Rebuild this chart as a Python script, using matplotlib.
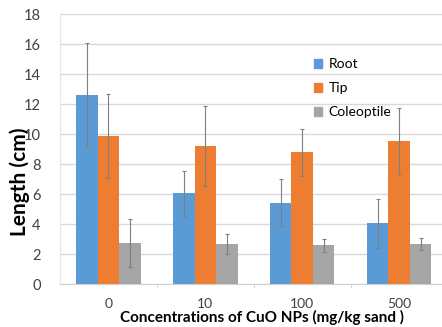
import numpy as np
import matplotlib.pyplot as plt
from matplotlib.patches import Patch

plt.rcParams['font.family'] = ['Lato', 'DejaVu Sans']

# data
concentrations = ['0', '10', '100', '500']
root = [12.6, 6.05, 5.42, 4.05]
root_err = [3.45, 1.5, 1.55, 1.65]
tip = [9.9, 9.2, 8.78, 9.56]
tip_err = [2.8, 2.67, 1.55, 2.2]
coleoptile = [2.75, 2.65, 2.58, 2.7]
coleoptile_err = [1.6, 0.68, 0.44, 0.4]

series = [('Root', root, root_err, '#5B9BD5'),
          ('Tip', tip, tip_err, '#ED7D31'),
          ('Coleoptile', coleoptile, coleoptile_err, '#A5A5A5')]

W, H = 442, 327
fig = plt.figure(figsize=(W / 100, H / 100), dpi=100)
ax = fig.add_axes([60 / W, 43 / H, 387.5 / W, 270 / H])

x = np.arange(len(concentrations))
bw = 0.222
for i, (name, vals, errs, col) in enumerate(series):
    ax.bar(x + (i - 1) * bw, vals, bw, color=col, label=name, zorder=2)
    ax.errorbar(x + (i - 1) * bw, vals, yerr=errs, fmt='none', ecolor='#7f7f7f',
                elinewidth=0.8, capsize=1.5, capthick=0.8, zorder=3)

ax.set_xlim(-0.5, len(concentrations) - 0.5)
ax.set_ylim(0, 18)
ax.set_yticks(np.arange(0, 19, 2))
ax.grid(axis='y', color='#d9d9d9', lw=1, zorder=0)
ax.set_axisbelow(True)

for s in ['top', 'right']:
    ax.spines[s].set_visible(False)
ax.spines['left'].set_color('#e6e6e6')
ax.spines['bottom'].set_color('#d0d0d0')

ax.set_xticks(x)
ax.set_xticklabels(concentrations)
ax.set_xticks(np.arange(0.5, len(concentrations) - 0.5, 1), minor=True)
ax.tick_params(axis='x', which='major', length=0, pad=10, labelsize=10, labelcolor='#404040')
ax.tick_params(axis='x', which='minor', length=3, color='#d0d0d0')
ax.tick_params(axis='y', length=0, pad=14, labelsize=10.5, labelcolor='#404040')

ax.set_ylabel('Length (cm)', fontsize=15, fontweight='bold')
ax.yaxis.set_label_coords(-0.078, 0.38)
ax.set_xlabel('Concentrations of CuO NPs (mg/kg sand )', fontsize=11, fontweight='bold')
ax.xaxis.set_label_coords(0.52, -0.095)

handles = [Patch(color=c) for _, _, _, c in series]
fig.legend(handles, [s[0] for s in series], loc='upper left',
           bbox_to_anchor=(301 / W, 1 - 46 / H), frameon=False, fontsize=10,
           handlelength=0.6, handleheight=0.6, handletextpad=0.5, labelspacing=0.85)

fig.savefig('out.png', dpi=100)
